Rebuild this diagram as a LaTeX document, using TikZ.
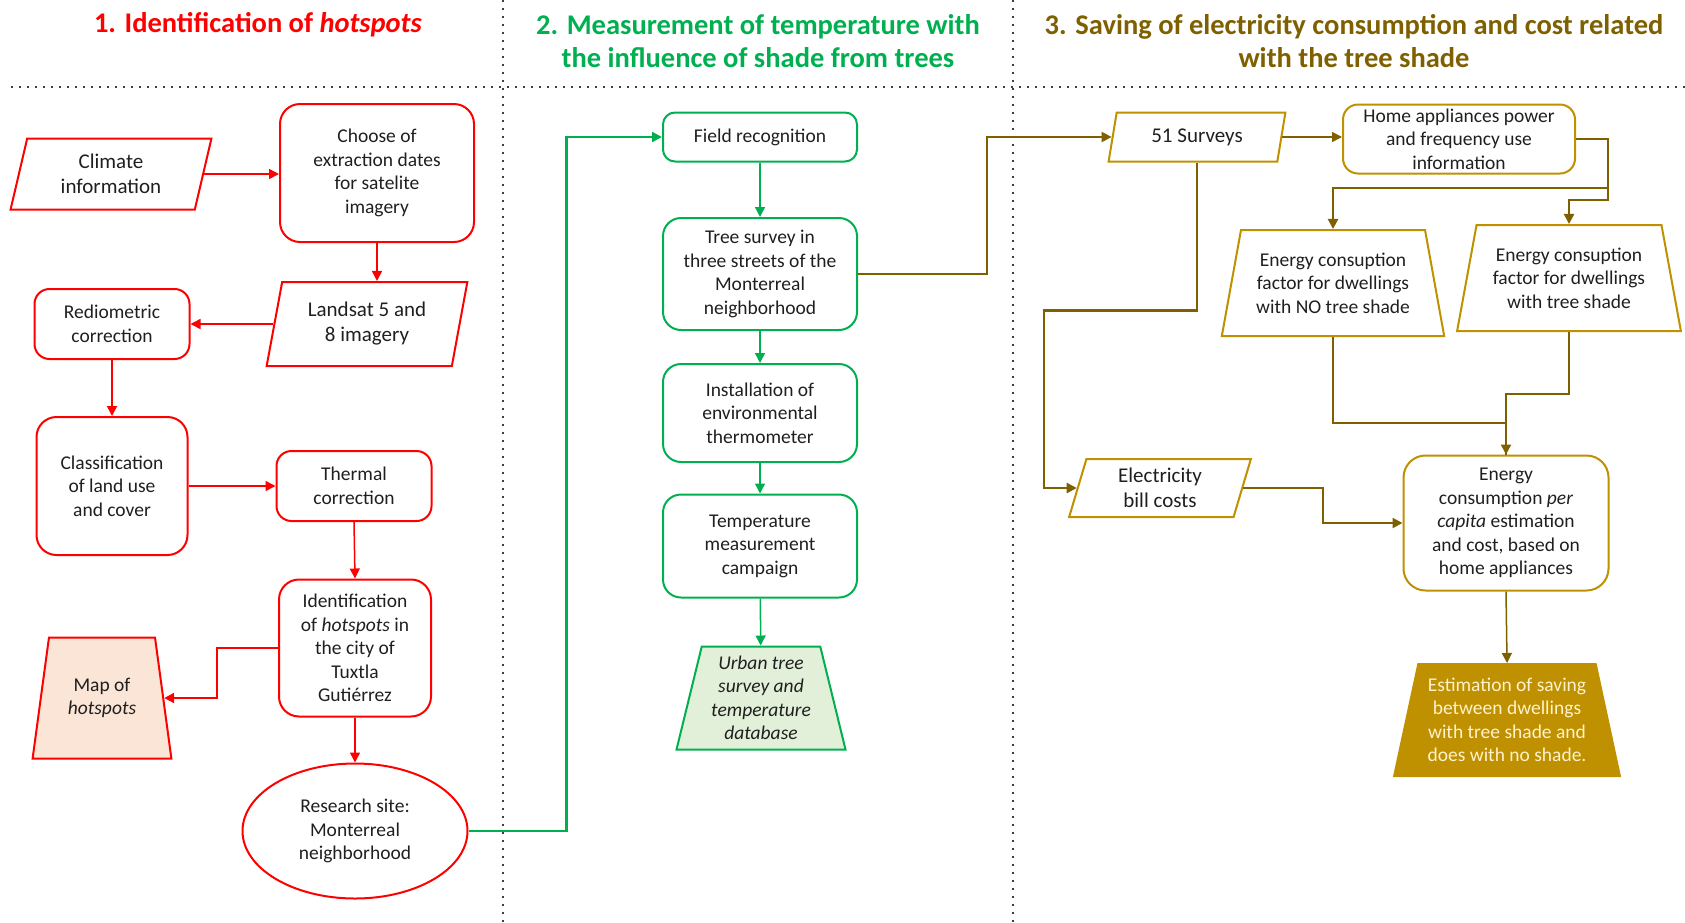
\documentclass[tikz,border=0pt]{standalone}
\usepackage{fontspec}
\setmainfont{Carlito}
\usetikzlibrary{shapes.geometric, positioning}
\usetikzlibrary{arrows, arrows.meta}

\definecolor{hotred}{HTML}{FF0000}
\definecolor{treegreen}{HTML}{00B050}
\definecolor{savedark}{HTML}{7F6000}
\definecolor{savegold}{HTML}{BF9000}
\definecolor{mapfill}{HTML}{FBE5D6}
\definecolor{dbfill}{HTML}{E2F0D9}
\definecolor{savetext}{HTML}{FFF2CC}
\definecolor{ink}{HTML}{1F1F1F}

\newcommand{\nodetxt}{\fontsize{19.5}{23.5}\selectfont}
\newcommand{\bignodetxt}{\fontsize{21}{25}\selectfont}
\newcommand{\headtxt}{\fontsize{28.5}{33}\selectfont\bfseries}

\begin{document}
\begin{tikzpicture}[x=1pt, y=-1pt, >={Triangle[length=10pt, width=10pt]},
  every node/.style={align=center, text=ink, font=\nodetxt, inner sep=3pt},
  box/.style={rectangle, rounded corners=15pt, draw, line width=2pt},
  datain/.style={trapezium, trapezium left angle=77, trapezium right angle=103,
    trapezium stretches=true, draw, line width=2pt},
  result/.style={trapezium, trapezium left angle=#1, trapezium right angle=#1,
    trapezium stretches=true, draw, line width=2pt},
  result/.default=76,
  link/.style={->, line width=1.5pt},
  sep/.style={line width=2pt, dash pattern=on 2pt off 6pt, black!75}]
\useasboundingbox (0,0) rectangle (1685,922);
\draw[sep] (11,87) -- (1685,87);
\draw[sep] (503,0) -- (503,922);
\draw[sep] (1013,0) -- (1013,922);

\node[font=\headtxt, text=hotred]     (head1) at (258,25) {1. Identification of \textit{hotspots}};
\node[font=\headtxt, text=treegreen]  (head2) at (758,41) {2. Measurement of temperature with\\the influence of shade from trees};
\node[font=\headtxt, text=savedark]   (head3) at (1354,41) {3. Saving of electricity consumption and cost related\\with the tree shade};

\node[datain, draw=hotred, minimum width=201pt, minimum height=71pt, font=\bignodetxt] (clim) at (111,174) {Climate\\information};
\node[box, draw=hotred, minimum width=194pt, minimum height=138pt, rounded corners=20pt] (choose) at (377,173) {Choose of\\extraction dates\\for satelite\\imagery};
\node[datain, draw=hotred, minimum width=201pt, minimum height=84pt, font=\bignodetxt] (land) at (367,324) {Landsat 5 and\\8 imagery};
\node[box, draw=hotred, minimum width=155pt, minimum height=70pt]  (redio) at (112,324) {Rediometric\\correction};
\node[box, draw=hotred, minimum width=151pt, minimum height=138pt, rounded corners=20pt] (classif) at (112,486) {Classification\\of land use\\and cover};
\node[box, draw=hotred, minimum width=155pt, minimum height=70pt]  (therm) at (354,486) {Thermal\\correction};
\node[box, draw=hotred, minimum width=152pt, minimum height=137pt, rounded corners=20pt] (ident) at (355,648) {Identification\\of \textit{hotspots} in\\the city of\\Tuxtla\\Gutiérrez};
\node[result, draw=hotred, fill=mapfill, minimum width=140pt, minimum height=121pt] (hotmap) at (102,698) {Map of\\\textit{hotspots}};
\node[ellipse, draw=hotred, line width=2pt, minimum width=225pt, minimum height=135pt] (site) at (355,831) {Research site:\\Monterreal\\neighborhood};

\node[box, draw=treegreen, minimum width=194pt, minimum height=49pt, rounded corners=12pt]  (field) at (760,137) {Field recognition};
\node[box, draw=treegreen, minimum width=194pt, minimum height=112pt, rounded corners=18pt] (survey) at (760,274) {Tree survey in\\three streets of the\\Monterreal\\neighborhood};
\node[box, draw=treegreen, minimum width=194pt, minimum height=98pt, rounded corners=18pt]  (install) at (760,413) {Installation of\\environmental\\thermometer};
\node[box, draw=treegreen, minimum width=194pt, minimum height=103pt, rounded corners=18pt] (campaign) at (760,546) {Temperature\\measurement\\campaign};
\node[result, draw=treegreen, fill=dbfill, minimum width=169pt, minimum height=103pt, font=\nodetxt\itshape] (treedb) at (761,698) {Urban tree\\survey and\\temperature\\database};

\node[datain, draw=savegold, trapezium left angle=78, trapezium right angle=102, minimum width=177pt, minimum height=49pt, font=\bignodetxt] (surveys) at (1197,137) {51 Surveys};
\node[box, draw=savegold, minimum width=232pt, minimum height=69pt, inner ysep=0pt] (appl) at (1459,139) {Home appliances power\\and frequency use\\information};
\node[result, draw=savegold, minimum width=223pt, minimum height=106pt] (noshade) at (1333,283) {Energy consuption\\factor for dwellings\\with NO tree shade};
\node[result, draw=savegold, minimum width=224pt, minimum height=106pt] (shade) at (1569,278) {Energy consuption\\factor for dwellings\\with tree shade};
\node[datain, draw=savegold, minimum width=182pt, minimum height=58pt, font=\bignodetxt] (bill) at (1160,488) {Electricity\\bill costs};
\node[box, draw=savegold, minimum width=205pt, minimum height=135pt, rounded corners=22pt] (capita) at (1506,523) {Energy\\consumption \textit{per}\\\textit{capita} estimation\\and cost, based on\\home appliances};
\node[result, draw=savegold, fill=savegold, text=savetext, minimum width=226pt, minimum height=112pt] (saving) at (1507,720) {Estimation of saving\\between dwellings\\with tree shade and\\does with no shade.};

\draw[link, hotred] (clim.east) -- (clim.east -| choose.west);
\draw[link, hotred] (choose.south) -- (choose.south |- land.north);
\draw[link, hotred] (land.west) -- (land.west -| redio.east);
\draw[link, hotred] (redio.south) -- (classif.north);
\draw[link, hotred] (classif.east) -- (therm.west);
\draw[link, hotred] (therm.south) -- (ident.north);
\draw[link, hotred, line width=2.2pt] (ident.west) -- ++(-61,0) |- (hotmap.east);
\draw[link, hotred] (ident.south) -- (site.north);

\draw[link, treegreen, line width=2.2pt] (site.east) -- ++(98,0) |- (field.west);
\draw[link, treegreen] (field) -- (survey);
\draw[link, treegreen] (survey) -- (install);
\draw[link, treegreen] (install) -- (campaign);
\draw[link, treegreen] (campaign) -- (treedb);

\draw[link, savedark, line width=2.2pt] (survey.east) -- ++(129,0) |- (surveys.west);
\draw[link, savedark] (surveys.east) -- (surveys.east -| appl.west);
\draw[link, savedark, line width=2.2pt] (appl.east) -- ++(32,0) -- ++(0,49) -| (noshade.north);
\draw[link, savedark, line width=2.2pt] (appl.east) ++(32,49) -- ++(0,12) -| (shade.north);
\draw[link, savedark, line width=2.2pt] (surveys.south) -- ++(0,148) -- ++(-153,0) |- (bill.west);
\draw[link, savedark, line width=2.2pt] (bill.east) -- ++(80,0) |- (capita.west);
\draw[savedark, line width=2.2pt] (noshade.south) -- ++(0,86) -| (capita.north);
\draw[link, savedark, line width=2.2pt] (shade.south) -- ++(0,62) -| (capita.north);
\draw[link, savedark] (capita.south) -- (saving.north);
\end{tikzpicture}
\end{document}
